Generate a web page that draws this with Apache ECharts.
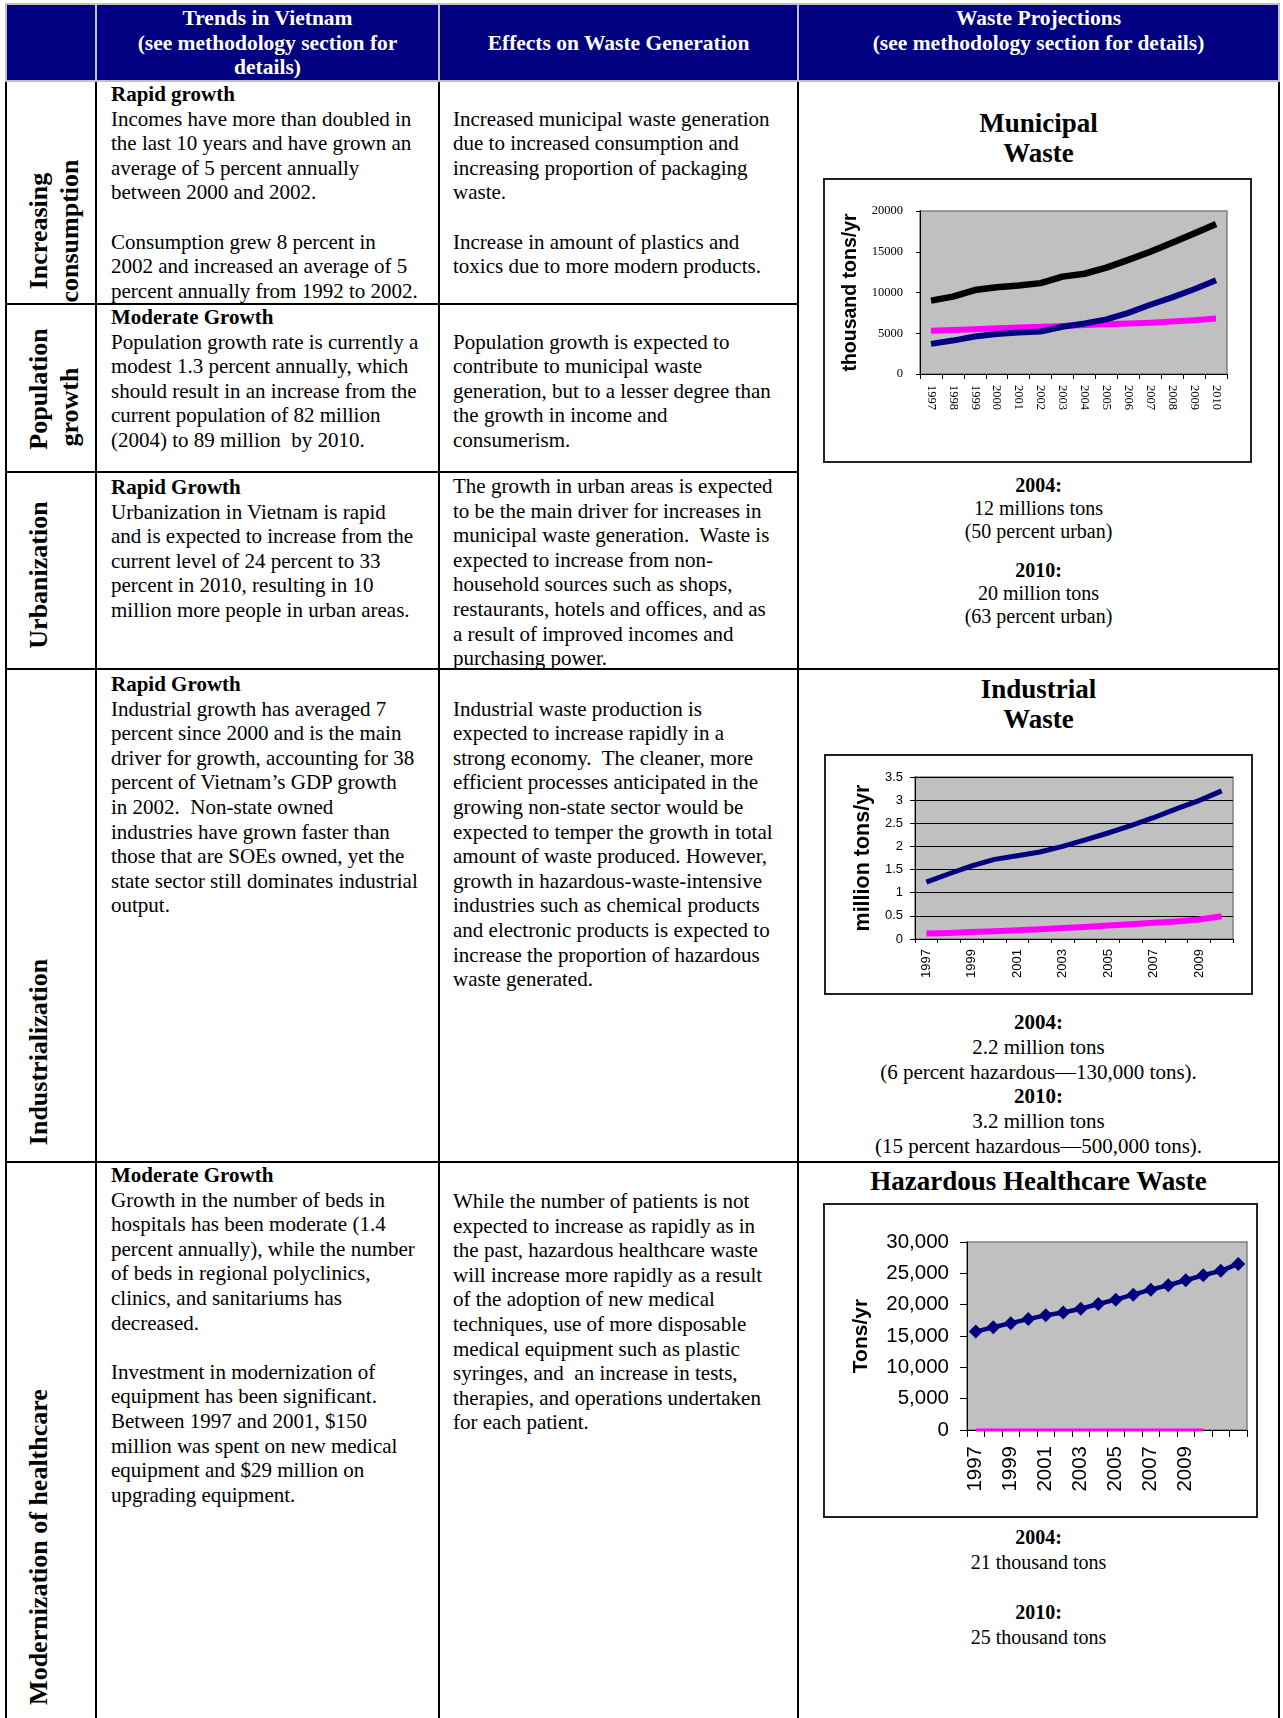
<!DOCTYPE html>
<html>
<head>
<meta charset="utf-8">
<title>Vietnam waste trends and projections</title>
<script src="https://cdn.jsdelivr.net/npm/echarts@6.0.0/dist/echarts.min.js"></script>
<style>
  html, body { margin: 0; padding: 0; background: #fff; }
  body { position: relative; width: 1283px; height: 1718px; overflow: hidden;
         font-family: "Liberation Serif", "Times New Roman", serif; color: #000; }
  .abs { position: absolute; }
  .hline, .vline { position: absolute; background: #000; }
  .txt { position: absolute; font-size: 21px; line-height: 24.6px; white-space: nowrap; }
  .head { position: absolute; font-size: 21.5px; line-height: 24.6px; white-space: nowrap;
          color: #fff; font-weight: bold; text-align: center; }
  .vlab { position: absolute; width: 400px; height: 30px; line-height: 30px; text-align: center;
          font-size: 26px; font-weight: bold; white-space: nowrap; transform: rotate(-90deg); }
  .ctitle { position: absolute; left: 798px; width: 481px; text-align: center; font-size: 27px;
            font-weight: bold; line-height: 30px; white-space: nowrap; }
  .stat { position: absolute; left: 798px; width: 481px; text-align: center; font-size: 20px;
          white-space: nowrap; }
  .box { position: absolute; border: 2px solid #222; box-sizing: border-box; background: #fff; }
  .box > div { position: absolute; left: 0; top: 0; right: 0; bottom: 0; }
</style>
</head>
<body>

<!-- header band -->
<div class="abs" style="left:5px;top:3px;width:1275px;height:79px;background:#000080;border:2px solid #c0c0c0;box-sizing:border-box;"></div>
<div class="abs" style="left:95px;top:3px;width:2px;height:79px;background:#c0c0c0;"></div>
<div class="abs" style="left:438px;top:3px;width:2px;height:79px;background:#c0c0c0;"></div>
<div class="abs" style="left:797px;top:3px;width:2px;height:79px;background:#c0c0c0;"></div>
<div class="head" style="left:96px;width:343px;top:6px;">Trends in Vietnam<br>(see methodology section for<br>details)</div>
<div class="head" style="left:439px;width:359px;top:31px;">Effects on Waste Generation</div>
<div class="head" style="left:798px;width:481px;top:6px;">Waste Projections<br>(see methodology section for details)</div>

<!-- table rules -->
<div class="vline" style="left:5px;top:82px;width:2px;height:1636px;"></div>
<div class="vline" style="left:95px;top:82px;width:2px;height:1636px;"></div>
<div class="vline" style="left:438px;top:82px;width:2px;height:1636px;"></div>
<div class="vline" style="left:797px;top:82px;width:2px;height:1636px;"></div>
<div class="vline" style="left:1278px;top:82px;width:2px;height:1636px;"></div>
<div class="hline" style="left:5px;top:303px;width:794px;height:2px;"></div>
<div class="hline" style="left:5px;top:471px;width:794px;height:2px;"></div>
<div class="hline" style="left:5px;top:668px;width:1275px;height:2px;"></div>
<div class="hline" style="left:5px;top:1161px;width:1275px;height:2px;"></div>

<!-- row labels -->
<div class="vlab" style="left:-161px;top:216px;">Increasing</div>
<div class="vlab" style="left:-130px;top:216px;">consumption</div>
<div class="vlab" style="left:-161px;top:374px;">Population</div>
<div class="vlab" style="left:-130px;top:392px;">growth</div>
<div class="vlab" style="left:-161px;top:560px;">Urbanization</div>
<div class="vlab" style="left:-161px;top:1037px;">Industrialization</div>
<div class="vlab" style="left:-161px;top:1532px;">Modernization of healthcare</div>

<!-- trends column -->
<div class="txt" style="left:111px;top:82px;"><b>Rapid growth</b><br>Incomes have more than doubled in<br>the last 10 years and have grown an<br>average of 5 percent annually<br>between 2000 and 2002.<br>&nbsp;<br>Consumption grew 8 percent in<br>2002 and increased an average of 5<br>percent annually from 1992 to 2002.</div>
<div class="txt" style="left:111px;top:305px;"><b>Moderate Growth</b><br>Population growth rate is currently a<br>modest 1.3 percent annually, which<br>should result in an increase from the<br>current population of 82 million<br>(2004) to 89 million&nbsp; by 2010.</div>
<div class="txt" style="left:111px;top:475px;"><b>Rapid Growth</b><br>Urbanization in Vietnam is rapid<br>and is expected to increase from the<br>current level of 24 percent to 33<br>percent in 2010, resulting in 10<br>million more people in urban areas.</div>
<div class="txt" style="left:111px;top:672px;"><b>Rapid Growth</b><br>Industrial growth has averaged 7<br>percent since 2000 and is the main<br>driver for growth, accounting for 38<br>percent of Vietnam’s GDP growth<br>in 2002.&nbsp; Non-state owned<br>industries have grown faster than<br>those that are SOEs owned, yet the<br>state sector still dominates industrial<br>output.</div>
<div class="txt" style="left:111px;top:1163px;"><b>Moderate Growth</b><br>Growth in the number of beds in<br>hospitals has been moderate (1.4<br>percent annually), while the number<br>of beds in regional polyclinics,<br>clinics, and sanitariums has<br>decreased.<br>&nbsp;<br>Investment in modernization of<br>equipment has been significant.<br>Between 1997 and 2001, $150<br>million was spent on new medical<br>equipment and $29 million on<br>upgrading equipment.</div>

<!-- effects column -->
<div class="txt" style="left:453px;top:106.6px;">Increased municipal waste generation<br>due to increased consumption and<br>increasing proportion of packaging<br>waste.<br>&nbsp;<br>Increase in amount of plastics and<br>toxics due to more modern products.</div>
<div class="txt" style="left:453px;top:329.6px;">Population growth is expected to<br>contribute to municipal waste<br>generation, but to a lesser degree than<br>the growth in income and<br>consumerism.</div>
<div class="txt" style="left:453px;top:474px;">The growth in urban areas is expected<br>to be the main driver for increases in<br>municipal waste generation.&nbsp; Waste is<br>expected to increase from non-<br>household sources such as shops,<br>restaurants, hotels and offices, and as<br>a result of improved incomes and<br>purchasing power.</div>
<div class="txt" style="left:453px;top:696.6px;">Industrial waste production is<br>expected to increase rapidly in a<br>strong economy.&nbsp; The cleaner, more<br>efficient processes anticipated in the<br>growing non-state sector would be<br>expected to temper the growth in total<br>amount of waste produced. However,<br>growth in hazardous-waste-intensive<br>industries such as chemical products<br>and electronic products is expected to<br>increase the proportion of hazardous<br>waste generated.</div>
<div class="txt" style="left:453px;top:1189px;">While the number of patients is not<br>expected to increase as rapidly as in<br>the past, hazardous healthcare waste<br>will increase more rapidly as a result<br>of the adoption of new medical<br>techniques, use of more disposable<br>medical equipment such as plastic<br>syringes, and&nbsp; an increase in tests,<br>therapies, and operations undertaken<br>for each patient.</div>

<!-- projections column -->
<div class="ctitle" style="top:108px;">Municipal<br>Waste</div>
<div class="box" style="left:823px;top:178px;width:429px;height:285px;"><div id="chartMunicipal"></div></div>
<div class="stat" style="top:474px;line-height:23px;"><b>2004:</b><br>12 millions tons<br>(50 percent urban)</div>
<div class="stat" style="top:559px;line-height:23px;"><b>2010:</b><br>20 million tons<br>(63 percent urban)</div>

<div class="ctitle" style="top:674px;">Industrial<br>Waste</div>
<div class="box" style="left:824px;top:754px;width:429px;height:241px;"><div id="chartIndustrial"></div></div>
<div class="stat" style="top:1010px;line-height:24.8px;font-size:21px;"><b>2004:</b><br>2.2 million tons<br>(6 percent hazardous—130,000 tons).<br><b>2010:</b><br>3.2 million tons<br>(15 percent hazardous—500,000 tons).</div>

<div class="ctitle" style="top:1166px;">Hazardous Healthcare Waste</div>
<div class="box" style="left:823px;top:1203px;width:435px;height:315px;"><div id="chartHealthcare"></div></div>
<div class="stat" style="top:1525px;line-height:25px;"><b>2004:</b><br>21 thousand tons<br>&nbsp;<br><b>2010:</b><br>25 thousand tons</div>

<script>
// ---- data (thousand tons/yr for municipal, million tons/yr for industrial, tons/yr for healthcare)
const years = ['1997', '1998', '1999', '2000', '2001', '2002', '2003', '2004', '2005', '2006', '2007', '2008', '2009', '2010'];

const municipalTotal = [9000, 9500, 10300, 10650, 10850, 11150, 11950, 12300, 13050, 14000, 15000, 16100, 17250, 18400];
const municipalUrban = [3700, 4100, 4600, 4900, 5100, 5200, 5800, 6200, 6700, 7500, 8500, 9400, 10400, 11500];
const municipalRural = [5300, 5400, 5500, 5600, 5700, 5800, 5900, 6000, 6100, 6200, 6300, 6450, 6600, 6800];

const industrialTotal = [1.23, 1.41, 1.58, 1.72, 1.80, 1.88, 2.00, 2.14, 2.29, 2.45, 2.62, 2.81, 2.99, 3.20];
const industrialHazardous = [0.12, 0.13, 0.15, 0.17, 0.19, 0.21, 0.24, 0.26, 0.29, 0.32, 0.35, 0.38, 0.42, 0.49];

const healthcareYears = ['1997', '1998', '1999', '2000', '2001', '2002', '2003', '2004', '2005', '2006', '2007', '2008', '2009', '2010', '', ''];
const healthcareHazardous = [15700, 16400, 17050, 17700, 18300, 18750, 19350, 20100, 20800, 21600, 22400, 23100, 23900, 24700, 25400, 26500];
const healthcareOther = [0, 0, 0, 0, 0, 0, 0, 0, 0, 0, 0, 0, 0, 0];

const municipalTicks = { min: 0, max: 20000, interval: 5000 };
const industrialTicks = { min: 0, max: 3.5, interval: 0.5 };
const healthcareTicks = { min: 0, max: 30000, interval: 5000 };

// ---- shared styling
const NAVY = '#000080', MAGENTA = '#ff00ff', BLACK = '#000000';
const PLOT_BG = '#c0c0c0', PLOT_BORDER = '#808080';
const SERIF = '"Liberation Serif", "Times New Roman", serif';
const SANS = '"Liberation Sans", Arial, sans-serif';

function plotGrid(m) {
  return Object.assign({
    show: true, backgroundColor: PLOT_BG, borderColor: PLOT_BORDER, borderWidth: 1.5,
    containLabel: false, outerBoundsMode: 'none'
  }, m);
}

function lineSeries(name, data, color, width, extra) {
  return Object.assign({
    name: name, type: 'line', data: data, symbol: 'none', showSymbol: false,
    lineStyle: { color: color, width: width, join: 'round' },
    itemStyle: { color: color }, emphasis: { disabled: true }, silent: true
  }, extra || {});
}

function plain(v) { return String(v); }
function withCommas(v) {
  return String(v).replace(/\B(?=(\d{3})+(?!\d))/g, ',');
}

// ---- municipal waste
const municipal = echarts.init(document.getElementById('chartMunicipal'), null, { renderer: 'canvas' });
municipal.setOption({
  animation: false,
  grid: plotGrid({ left: 95, top: 31, right: 23, bottom: 87 }),
  xAxis: {
    type: 'category', data: years, boundaryGap: true,
    axisLine: { show: true, lineStyle: { color: BLACK, width: 1 } },
    axisTick: { show: true, interval: 0, length: 5, lineStyle: { color: BLACK } },
    axisLabel: { interval: 0, rotate: -90, margin: 11, fontFamily: SERIF, fontSize: 12.5, color: BLACK },
    splitLine: { show: false }
  },
  yAxis: {
    type: 'value', min: municipalTicks.min, max: municipalTicks.max, interval: municipalTicks.interval,
    name: 'thousand tons/yr', nameLocation: 'middle', nameRotate: 90, nameGap: 52,
    nameTextStyle: { fontFamily: SANS, fontWeight: 'bold', fontSize: 19.5, color: BLACK },
    axisLine: { show: true, lineStyle: { color: BLACK, width: 1 } },
    axisTick: { show: true, length: 4, lineStyle: { color: BLACK } },
    axisLabel: { margin: 17, fontFamily: SERIF, fontSize: 12.5, color: BLACK, formatter: plain },
    splitLine: { show: false }
  },
  series: [
    lineSeries('Rural', municipalRural, MAGENTA, 6),
    lineSeries('Urban', municipalUrban, NAVY, 6),
    lineSeries('Total', municipalTotal, BLACK, 6.5)
  ]
});

// ---- industrial waste
const industrial = echarts.init(document.getElementById('chartIndustrial'), null, { renderer: 'canvas' });
industrial.setOption({
  animation: false,
  grid: plotGrid({ left: 89, top: 21, right: 18, bottom: 54 }),
  xAxis: {
    type: 'category', data: years, boundaryGap: true,
    axisLine: { show: true, lineStyle: { color: BLACK, width: 1 } },
    axisTick: { show: true, interval: 0, length: 4, lineStyle: { color: BLACK } },
    axisLabel: { interval: 1, rotate: 90, margin: 10, fontFamily: SANS, fontSize: 13, color: BLACK },
    splitLine: { show: false }
  },
  yAxis: {
    type: 'value', min: industrialTicks.min, max: industrialTicks.max, interval: industrialTicks.interval,
    name: 'million tons/yr', nameLocation: 'middle', nameRotate: 90, nameGap: 37,
    nameTextStyle: { fontFamily: SANS, fontWeight: 'bold', fontSize: 21.5, color: BLACK },
    axisLine: { show: true, lineStyle: { color: BLACK, width: 1 } },
    axisTick: { show: true, length: 5, lineStyle: { color: BLACK } },
    axisLabel: { margin: 12, fontFamily: SANS, fontSize: 13, color: BLACK, formatter: plain },
    splitLine: { show: true, lineStyle: { color: BLACK, width: 1 } }
  },
  series: [
    lineSeries('Total', industrialTotal, NAVY, 5),
    lineSeries('Hazardous', industrialHazardous, MAGENTA, 6)
  ]
});

// ---- hazardous healthcare waste
const healthcare = echarts.init(document.getElementById('chartHealthcare'), null, { renderer: 'canvas' });
healthcare.setOption({
  animation: false,
  grid: plotGrid({ left: 142, top: 37, right: 9, bottom: 86 }),
  xAxis: {
    type: 'category', data: healthcareYears, boundaryGap: true,
    axisLine: { show: true, lineStyle: { color: BLACK, width: 1 } },
    axisTick: { show: true, interval: 0, length: 7, lineStyle: { color: BLACK } },
    axisLabel: { interval: 1, rotate: 90, margin: 16, fontFamily: SANS, fontSize: 20.5, color: BLACK },
    splitLine: { show: false }
  },
  yAxis: {
    type: 'value', min: healthcareTicks.min, max: healthcareTicks.max, interval: healthcareTicks.interval,
    name: 'Tons/yr', nameLocation: 'middle', nameRotate: 90, nameGap: 95,
    nameTextStyle: { fontFamily: SANS, fontWeight: 'bold', fontSize: 21, color: BLACK },
    axisLine: { show: true, lineStyle: { color: BLACK, width: 1 } },
    axisTick: { show: true, length: 7, lineStyle: { color: BLACK } },
    axisLabel: { margin: 18, fontFamily: SANS, fontSize: 20.5, color: BLACK, formatter: withCommas },
    splitLine: { show: false }
  },
  series: [
    lineSeries('Other', healthcareOther, MAGENTA, 3, { clip: false }),
    lineSeries('Hazardous', healthcareHazardous, NAVY, 4.5, {
      symbol: 'diamond', showSymbol: true, showAllSymbol: true, symbolSize: 14
    })
  ]
});
</script>
</body>
</html>
